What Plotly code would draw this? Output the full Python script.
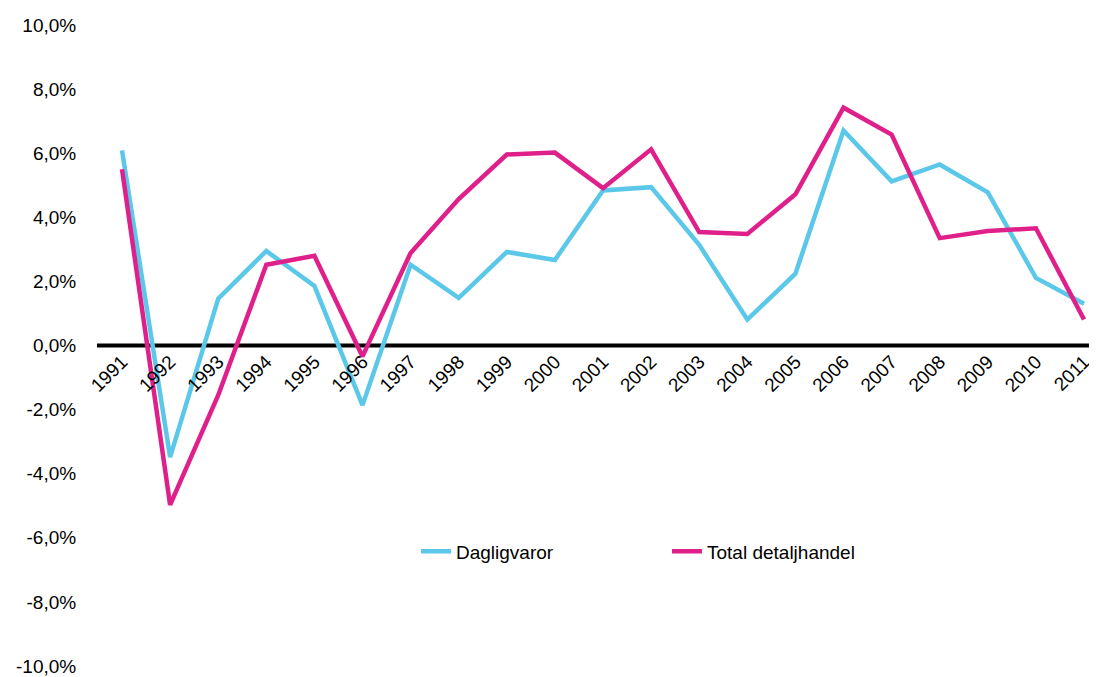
import plotly.graph_objects as go

years = [str(y) for y in range(1991, 2012)]
dagligvaror = [6.09, -3.48, 1.46, 2.95, 1.86, -1.86, 2.52, 1.49, 2.92, 2.67, 4.84,
               4.94, 3.14, 0.81, 2.24, 6.71, 5.12, 5.65, 4.78, 2.11, 1.30]
total = [5.50, -4.97, -1.55, 2.52, 2.80, -0.34, 2.89, 4.57, 5.96, 6.02, 4.91,
         6.12, 3.54, 3.48, 4.72, 7.42, 6.58, 3.35, 3.57, 3.66, 0.81]
ytick_vals = [-10, -8, -6, -4, -2, 0, 2, 4, 6, 8, 10]
ytick_text = [f"{v:.1f}%".replace(".", ",") for v in ytick_vals]

fig = go.Figure()
fig.add_trace(go.Scatter(x=years, y=dagligvaror, mode="lines", name="Dagligvaror",
                         line=dict(color="#5BC8EA", width=4.5)))
fig.add_trace(go.Scatter(x=years, y=total, mode="lines", name="Total detaljhandel",
                         line=dict(color="#E0208A", width=4.5)))

fig.add_shape(type="line", xref="paper", yref="y", x0=0, x1=1.02, y0=0, y1=0,
              line=dict(color="black", width=4), layer="below")

fig.update_layout(
    width=1089, height=669,
    margin=dict(l=89, r=0, t=17, b=8),
    paper_bgcolor="white", plot_bgcolor="white",
    font=dict(family="Liberation Sans, Arial, sans-serif", size=19, color="black"),
    showlegend=True,
    legend=dict(orientation="h", x=0.319, y=0.18, xanchor="left", yanchor="middle",
                entrywidth=206, entrywidthmode="pixels", font=dict(size=19),
                bgcolor="rgba(0,0,0,0)"),
    xaxis=dict(type="category", range=[-0.52, 20.27], showgrid=False, showline=False,
               ticks="", tickangle=-45, anchor="free", position=0.5,
               tickfont=dict(size=19)),
    yaxis=dict(range=[-10.03, 10], tickvals=ytick_vals, ticktext=ytick_text,
               showgrid=False, showline=False, zeroline=False,
               ticks="outside", ticklen=16, tickcolor="rgba(0,0,0,0)",
               tickfont=dict(size=19), ticklabeloverflow="allow"),
)

fig.write_html("out.html")
